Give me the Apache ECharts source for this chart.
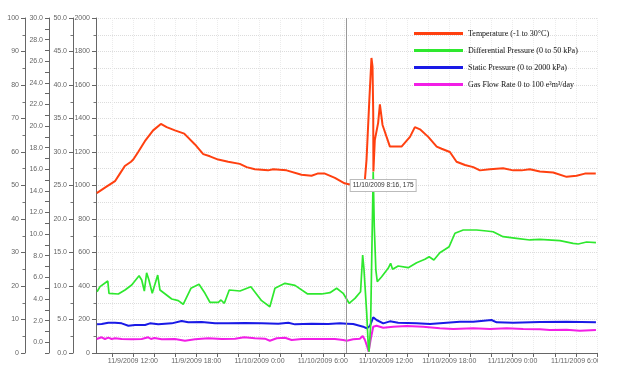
<!DOCTYPE html>
<html><head><meta charset="utf-8">
<script src="https://cdn.jsdelivr.net/npm/echarts@6/dist/echarts.min.js"></script>
<style>html,body{margin:0;padding:0;background:#fff;overflow:hidden}#c{width:598px;height:379px}</style>
</head><body><div id="c"></div>
<script>
// ---- data ----
const seriesNames = ['Temperature (-1 to 30°C)', 'Differential Pressure (0 to 50 kPa)', 'Static Pressure (0 to 2000 kPa)', 'Gas Flow Rate 0 to 100 e³m³/day'];

const tempTimes = ['2009-11-09 08:34','2009-11-09 09:21','2009-11-09 10:18','2009-11-09 10:46','2009-11-09 11:14','2009-11-09 11:49','2009-11-09 12:02','2009-11-09 12:30','2009-11-09 13:08','2009-11-09 13:55','2009-11-09 14:39','2009-11-09 15:12','2009-11-09 15:59','2009-11-09 16:52','2009-11-09 17:53','2009-11-09 18:40','2009-11-09 19:18','2009-11-09 20:05','2009-11-09 21:02','2009-11-09 22:08','2009-11-09 22:47','2009-11-09 23:34','2009-11-10 00:49','2009-11-10 01:18','2009-11-10 02:34','2009-11-10 03:59','2009-11-10 04:56','2009-11-10 05:30','2009-11-10 06:12','2009-11-10 07:09','2009-11-10 08:04','2009-11-10 08:34','2009-11-10 09:22','2009-11-10 09:31','2009-11-10 09:59','2009-11-10 10:09','2009-11-10 10:24','2009-11-10 10:37','2009-11-10 10:43','2009-11-10 10:47','2009-11-10 10:48','2009-11-10 10:56','2009-11-10 11:15','2009-11-10 11:25','2009-11-10 11:40','2009-11-10 12:22','2009-11-10 13:28','2009-11-10 14:16','2009-11-10 14:44','2009-11-10 15:13','2009-11-10 16:00','2009-11-10 16:48','2009-11-10 17:16','2009-11-10 18:03','2009-11-10 18:41','2009-11-10 19:29','2009-11-10 20:16','2009-11-10 20:54','2009-11-10 21:51','2009-11-10 23:06','2009-11-11 00:03','2009-11-11 00:51','2009-11-11 01:38','2009-11-11 02:35','2009-11-11 03:51','2009-11-11 05:07','2009-11-11 06:04','2009-11-11 06:51','2009-11-11 07:53'];
const tempValues = [13.8,14.3,14.9,15.6,16.3,16.7,16.9,17.6,18.6,19.6,20.2,19.9,19.6,19.3,18.3,17.4,17.2,16.9,16.7,16.5,16.2,16.0,15.9,16.0,15.9,15.5,15.4,15.6,15.6,15.2,14.7,14.6,15.0,15.1,14.9,16.9,22.1,26.3,25.5,21.2,15.8,18.7,20.3,22.0,20.1,18.1,18.1,19.0,19.9,19.7,19.0,18.1,17.9,17.6,16.7,16.4,16.2,15.9,16.0,16.1,15.9,15.9,16.0,15.8,15.7,15.3,15.4,15.6,15.6];

const dpTimes = ['2009-11-09 08:36','2009-11-09 08:53','2009-11-09 09:37','2009-11-09 09:44','2009-11-09 10:37','2009-11-09 11:15','2009-11-09 11:53','2009-11-09 12:35','2009-11-09 12:50','2009-11-09 13:05','2009-11-09 13:18','2009-11-09 13:31','2009-11-09 13:50','2009-11-09 14:21','2009-11-09 14:34','2009-11-09 15:41','2009-11-09 16:18','2009-11-09 16:46','2009-11-09 17:30','2009-11-09 18:16','2009-11-09 18:50','2009-11-09 19:18','2009-11-09 20:06','2009-11-09 20:21','2009-11-09 20:40','2009-11-09 21:08','2009-11-09 22:09','2009-11-09 23:11','2009-11-10 00:12','2009-11-10 00:59','2009-11-10 01:28','2009-11-10 02:25','2009-11-10 03:22','2009-11-10 04:34','2009-11-10 05:54','2009-11-10 06:41','2009-11-10 07:19','2009-11-10 07:56','2009-11-10 08:30','2009-11-10 09:03','2009-11-10 09:35','2009-11-10 09:47','2009-11-10 09:54','2009-11-10 10:10','2009-11-10 10:19','2009-11-10 10:23','2009-11-10 10:32','2009-11-10 10:41','2009-11-10 10:47','2009-11-10 10:53','2009-11-10 11:02','2009-11-10 11:10','2009-11-10 11:35','2009-11-10 12:12','2009-11-10 12:26','2009-11-10 12:37','2009-11-10 13:09','2009-11-10 14:06','2009-11-10 14:54','2009-11-10 15:41','2009-11-10 16:05','2009-11-10 16:32','2009-11-10 17:06','2009-11-10 17:59','2009-11-10 18:32','2009-11-10 19:19','2009-11-10 20:35','2009-11-10 21:32','2009-11-10 22:09','2009-11-10 23:06','2009-11-11 00:22','2009-11-11 01:38','2009-11-11 02:35','2009-11-11 04:29','2009-11-11 05:44','2009-11-11 06:13','2009-11-11 07:01','2009-11-11 07:54'];
const dpValues = [9.15,9.90,10.75,8.91,8.81,9.40,10.15,11.54,10.90,9.25,11.98,10.90,8.91,11.64,9.40,8.06,7.81,7.27,9.66,10.25,8.91,7.57,7.57,7.91,7.42,9.40,9.25,9.90,7.81,6.91,9.66,10.40,10.10,8.81,8.81,9.00,9.66,8.91,7.42,8.16,9.15,14.63,12.64,5.93,0.94,0.19,3.93,17.87,27.06,18.85,12.39,10.64,11.39,12.64,13.39,12.49,12.98,12.73,13.48,13.98,14.37,13.88,14.97,15.87,17.87,18.36,18.36,18.21,18.10,17.36,17.12,16.87,16.97,16.76,16.37,16.27,16.57,16.46];

const spTimes = ['2009-11-09 08:36','2009-11-09 09:02','2009-11-09 09:40','2009-11-09 10:18','2009-11-09 10:56','2009-11-09 11:34','2009-11-09 12:12','2009-11-09 13:09','2009-11-09 13:37','2009-11-09 14:24','2009-11-09 15:41','2009-11-09 16:37','2009-11-09 17:15','2009-11-09 18:31','2009-11-09 19:47','2009-11-09 21:02','2009-11-09 22:37','2009-11-10 00:12','2009-11-10 01:47','2009-11-10 02:44','2009-11-10 03:22','2009-11-10 04:57','2009-11-10 06:31','2009-11-10 07:38','2009-11-10 08:16','2009-11-10 08:53','2009-11-10 09:50','2009-11-10 10:10','2009-11-10 10:28','2009-11-10 10:47','2009-11-10 11:06','2009-11-10 11:44','2009-11-10 12:22','2009-11-10 13:09','2009-11-10 14:54','2009-11-10 16:10','2009-11-10 17:45','2009-11-10 19:00','2009-11-10 20:16','2009-11-10 22:00','2009-11-10 22:29','2009-11-11 00:03','2009-11-11 02:35','2009-11-11 05:07','2009-11-11 07:54'];
const spValues = [171,173,181,181,177,163,167,167,177,171,177,191,183,185,177,177,179,177,175,181,171,175,173,177,175,173,157,147,161,213,197,177,189,181,177,173,181,187,187,197,183,181,185,187,183];

const gfTimes = ['2009-11-09 08:34','2009-11-09 09:02','2009-11-09 09:21','2009-11-09 09:40','2009-11-09 09:59','2009-11-09 10:18','2009-11-09 10:56','2009-11-09 11:53','2009-11-09 12:50','2009-11-09 13:27','2009-11-09 13:43','2009-11-09 14:02','2009-11-09 14:44','2009-11-09 15:59','2009-11-09 16:56','2009-11-09 17:53','2009-11-09 19:09','2009-11-09 20:25','2009-11-09 21:41','2009-11-09 22:33','2009-11-09 23:34','2009-11-10 00:31','2009-11-10 00:59','2009-11-10 01:38','2009-11-10 02:25','2009-11-10 03:03','2009-11-10 04:00','2009-11-10 05:54','2009-11-10 07:09','2009-11-10 07:56','2009-11-10 08:16','2009-11-10 08:53','2009-11-10 09:31','2009-11-10 09:47','2009-11-10 10:00','2009-11-10 10:13','2009-11-10 10:21','2009-11-10 10:32','2009-11-10 10:47','2009-11-10 11:06','2009-11-10 11:44','2009-11-10 12:41','2009-11-10 13:57','2009-11-10 15:31','2009-11-10 17:06','2009-11-10 18:22','2009-11-10 20:16','2009-11-10 21:51','2009-11-10 23:26','2009-11-11 01:00','2009-11-11 02:35','2009-11-11 03:32','2009-11-11 05:07','2009-11-11 06:22','2009-11-11 07:54'];
const gfValues = [4.18,4.69,4.18,4.57,4.18,4.39,4.18,4.09,4.18,4.69,4.18,4.48,4.09,4.18,3.67,4.09,4.39,4.18,4.27,4.69,4.39,4.27,3.67,4.39,4.57,3.88,4.18,4.18,4.18,3.88,3.67,4.09,4.27,5.07,3.88,1.88,0.39,3.88,7.85,8.15,7.55,7.85,8.06,7.85,7.37,7.16,7.37,7.16,7.37,7.16,7.07,6.87,6.96,6.66,6.87];

const xMin = '2009-11-09 08:30';
const xMax = '2009-11-11 08:00';
const xLabelTimes = ['2009-11-09 12:00','2009-11-09 18:00','2009-11-10 00:00','2009-11-10 06:00','2009-11-10 12:00','2009-11-10 18:00','2009-11-11 00:00','2009-11-11 06:00'];
const markerTime = '2009-11-10 08:16';
const markerValue = 175;

// ---- helpers ----
function ts(s){const m=s.match(/(\d+)-(\d+)-(\d+) (\d+):(\d+)/);return Date.UTC(+m[1],+m[2]-1,+m[3],+m[4],+m[5]);}
function fmt(v){const d=new Date(v);return (d.getUTCMonth()+1)+'/'+d.getUTCDate()+'/'+d.getUTCFullYear()+' '+d.getUTCHours()+':'+String(d.getUTCMinutes()).padStart(2,'0');}
function pairs(t,v){return t.map((s,i)=>[ts(s),v[i]]);}
const HOUR=3600000;
const xTicks=[];for(let t=ts('2009-11-09 10:00');t<=ts(xMax);t+=2*HOUR)xTicks.push(t);

const labelFont={fontSize:7,color:'#666',fontFamily:'Liberation Sans'};
function yAx(opt){
  return Object.assign({
    type:'value',position:'left',
    axisLine:{show:true,lineStyle:{color:'#666',width:1}},
    axisTick:{show:true,length:4,lineStyle:{color:'#666'}},
    minorTick:{show:true,splitNumber:2,length:2.5,lineStyle:{color:'#777'}},
    axisLabel:Object.assign({margin:6,formatter:v=>String(v)},labelFont),
    splitLine:{show:false}
  },opt);
}

const chart=echarts.init(document.getElementById('c'),null,{renderer:'canvas'});
const option={
  animation:false,
  backgroundColor:'#fff',
  grid:{left:96,top:18,right:1,bottom:26,containLabel:false,outerBoundsMode:'none'},
  legend:{
    orient:'vertical',left:409,top:23,icon:'rect',itemWidth:49,itemHeight:3,itemGap:6,
    textStyle:{fontSize:8,fontFamily:'Liberation Serif',color:'#111',lineHeight:11},
    data:seriesNames
  },
  xAxis:{
    type:'value',min:ts(xMin),max:ts(xMax),
    axisLine:{show:true,onZero:false,lineStyle:{color:'#666'}},
    axisTick:{show:true,length:4,customValues:xTicks,lineStyle:{color:'#666'}},
    axisLabel:Object.assign({margin:5,customValues:xLabelTimes.map(ts),formatter:fmt},labelFont),
    splitLine:{show:true,lineStyle:{color:'#ececec',type:'dotted'}}
  },
  yAxis:[
    yAx({min:0,max:2000,interval:200,offset:0,
      splitLine:{show:true,lineStyle:{color:'#dcdcdc',type:'dotted'}},
      minorSplitLine:{show:true,lineStyle:{color:'#dcdcdc',type:'dotted'}}}),
    yAx({min:0,max:50,interval:5,offset:23,axisLabel:Object.assign({margin:6,formatter:v=>v.toFixed(1)},labelFont)}),
    yAx({min:-1,max:30,interval:1,offset:47,minorTick:{show:false},
      axisLabel:Object.assign({margin:6,formatter:v=>(v>=0&&v%2===0)?v.toFixed(1):''},labelFont)}),
    yAx({min:0,max:100,interval:10,offset:71})
  ],
  series:[
    {name:seriesNames[0],type:'line',yAxisIndex:2,data:pairs(tempTimes,tempValues),showSymbol:false,symbol:'none',
      lineStyle:{color:'#ff4010',width:2},itemStyle:{color:'#ff4010'},z:5},
    {name:seriesNames[1],type:'line',yAxisIndex:1,data:pairs(dpTimes,dpValues),showSymbol:false,symbol:'none',
      lineStyle:{color:'#2ee82e',width:1.7},itemStyle:{color:'#2ee82e'},z:4},
    {name:seriesNames[2],type:'line',yAxisIndex:0,data:pairs(spTimes,spValues),showSymbol:false,symbol:'none',
      lineStyle:{color:'#1a1ae6',width:2},itemStyle:{color:'#1a1ae6'},z:3,
      markLine:{silent:true,symbol:'none',label:{show:false},lineStyle:{color:'#999',type:'solid',width:1},
        data:[{xAxis:ts(markerTime)}]}},
    {name:seriesNames[3],type:'line',yAxisIndex:3,data:pairs(gfTimes,gfValues),showSymbol:false,symbol:'none',
      lineStyle:{color:'#f21ee6',width:2},itemStyle:{color:'#f21ee6'},z:3}
  ]
};
chart.setOption(option);
const px=chart.convertToPixel({xAxisIndex:0},ts(markerTime));
chart.setOption({graphic:[{type:'text',left:px+3,top:179,z:100,
  style:{text:fmt(ts(markerTime))+', '+markerValue,fontSize:6.5,fontFamily:'Liberation Sans',fill:'#333',
    backgroundColor:'#fff',borderColor:'#bbb',borderWidth:1,padding:[2,2]}}]});
</script></body></html>
